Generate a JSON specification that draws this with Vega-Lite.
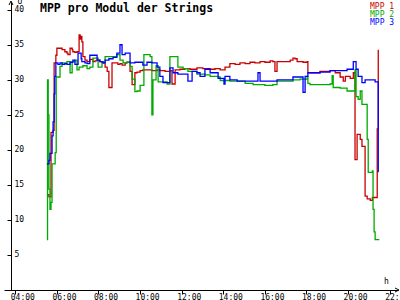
{
  "$schema": "https://vega.github.io/schema/vega-lite/v6.json",
  "width": 394,
  "height": 288,
  "autosize": "none",
  "padding": {"left": 4, "top": 2, "right": 2, "bottom": 10},
  "background": "white",
  "title": {"text": "MPP pro Modul der Strings", "anchor": "start", "dx": 36, "offset": -17, "font": "DejaVu Sans Mono", "fontSize": 11.5, "fontWeight": "bold", "color": "black"},
  "config": {
    "view": {"stroke": null},
    "axis": {"grid": false, "domainColor": "black", "tickColor": "black", "labelColor": "black", "titleColor": "black", "labelFont": "DejaVu Sans Mono", "titleFont": "DejaVu Sans Mono", "labelFontSize": 8, "titleFontSize": 8, "titleFontWeight": "normal"}
  },
  "encoding": {
    "x": {"field": "h", "type": "quantitative",
      "scale": {"domain": [3.457, 22.399], "nice": false, "zero": false},
      "axis": {"title": "h", "values": [4, 6, 8, 10, 12, 14, 16, 18, 20, 22], "labelExpr": "(datum.value < 10 ? '0' : '') + datum.value + ':00'", "tickSize": 4, "labelPadding": -1, "labelAlign": "left", "labelOffset": -5, "labelFlush": false, "labelOverlap": false, "labelBound": false, "titleX": 382, "titleY": -7, "titleAlign": "center", "titleBaseline": "alphabetic"}},
    "y": {"field": "v", "type": "quantitative",
      "scale": {"domain": [0, 41.1], "nice": false, "zero": false},
      "axis": {"offset": -7, "values": [5, 10, 15, 20, 25, 30, 35, 40], "tickSize": 4, "labelPadding": -7, "labelAlign": "left", "title": "U", "titleAngle": 0, "titleX": 6, "titleY": 1, "titleAlign": "left", "titleBaseline": "alphabetic"}}
  },
  "layer": [
    {
      "data": {
        "values": [
          {"s":"MPP 1","h":5.517,"v":13.6},{"s":"MPP 1","h":5.617,"v":13.3},{"s":"MPP 1","h":5.717,"v":22.5},{"s":"MPP 1","h":5.817,"v":22.8},{"s":"MPP 1","h":5.867,"v":32.4},{"s":"MPP 1","h":5.95,"v":33.5},{"s":"MPP 1","h":6.0,"v":34.5},{"s":"MPP 1","h":6.15,"v":34.5},{"s":"MPP 1","h":6.25,"v":34.3},{"s":"MPP 1","h":6.383,"v":34.0},{"s":"MPP 1","h":6.483,"v":33.8},{"s":"MPP 1","h":6.533,"v":33.6},{"s":"MPP 1","h":6.633,"v":34.5},{"s":"MPP 1","h":6.733,"v":34.3},{"s":"MPP 1","h":6.767,"v":34.0},{"s":"MPP 1","h":6.867,"v":33.9},{"s":"MPP 1","h":6.967,"v":34.0},{"s":"MPP 1","h":7.067,"v":36.4},{"s":"MPP 1","h":7.117,"v":35.8},{"s":"MPP 1","h":7.167,"v":36.2},{"s":"MPP 1","h":7.2,"v":35.4},{"s":"MPP 1","h":7.25,"v":33.3},{"s":"MPP 1","h":7.35,"v":32.8},{"s":"MPP 1","h":7.45,"v":32.6},{"s":"MPP 1","h":7.583,"v":32.9},{"s":"MPP 1","h":7.733,"v":32.6},{"s":"MPP 1","h":7.833,"v":32.7},{"s":"MPP 1","h":7.933,"v":32.8},{"s":"MPP 1","h":8.067,"v":32.6},{"s":"MPP 1","h":8.167,"v":32.5},{"s":"MPP 1","h":8.217,"v":32.4},{"s":"MPP 1","h":8.317,"v":31.8},{"s":"MPP 1","h":8.417,"v":31.2},{"s":"MPP 1","h":8.5,"v":28.9},{"s":"MPP 1","h":8.6,"v":28.9},{"s":"MPP 1","h":8.65,"v":32.4},{"s":"MPP 1","h":8.8,"v":32.4},{"s":"MPP 1","h":8.933,"v":32.2},{"s":"MPP 1","h":9.033,"v":32.3},{"s":"MPP 1","h":9.133,"v":32.1},{"s":"MPP 1","h":9.283,"v":32.4},{"s":"MPP 1","h":9.367,"v":32.5},{"s":"MPP 1","h":9.517,"v":31.2},{"s":"MPP 1","h":9.617,"v":29.3},{"s":"MPP 1","h":9.75,"v":31.0},{"s":"MPP 1","h":9.85,"v":31.1},{"s":"MPP 1","h":10.0,"v":31.3},{"s":"MPP 1","h":10.133,"v":31.4},{"s":"MPP 1","h":10.333,"v":31.4},{"s":"MPP 1","h":10.567,"v":31.3},{"s":"MPP 1","h":10.817,"v":31.4},{"s":"MPP 1","h":10.95,"v":31.3},{"s":"MPP 1","h":11.2,"v":31.2},{"s":"MPP 1","h":11.433,"v":31.3},{"s":"MPP 1","h":11.533,"v":29.4},{"s":"MPP 1","h":11.683,"v":31.4},{"s":"MPP 1","h":11.917,"v":31.5},{"s":"MPP 1","h":12.15,"v":31.6},{"s":"MPP 1","h":12.4,"v":31.5},{"s":"MPP 1","h":12.733,"v":31.7},{"s":"MPP 1","h":13.017,"v":31.6},{"s":"MPP 1","h":13.367,"v":31.5},{"s":"MPP 1","h":13.6,"v":31.6},{"s":"MPP 1","h":13.85,"v":31.4},{"s":"MPP 1","h":14.083,"v":31.8},{"s":"MPP 1","h":14.317,"v":32.3},{"s":"MPP 1","h":14.567,"v":32.2},{"s":"MPP 1","h":14.8,"v":32.4},{"s":"MPP 1","h":15.05,"v":32.3},{"s":"MPP 1","h":15.283,"v":32.5},{"s":"MPP 1","h":15.517,"v":32.4},{"s":"MPP 1","h":15.767,"v":32.6},{"s":"MPP 1","h":16.0,"v":32.5},{"s":"MPP 1","h":16.25,"v":32.7},{"s":"MPP 1","h":16.383,"v":32.6},{"s":"MPP 1","h":16.483,"v":31.2},{"s":"MPP 1","h":16.583,"v":32.6},{"s":"MPP 1","h":16.967,"v":32.6},{"s":"MPP 1","h":17.217,"v":32.8},{"s":"MPP 1","h":17.35,"v":33.1},{"s":"MPP 1","h":17.45,"v":33.0},{"s":"MPP 1","h":17.55,"v":32.6},{"s":"MPP 1","h":17.833,"v":32.5},{"s":"MPP 1","h":18.033,"v":32.6},{"s":"MPP 1","h":18.067,"v":31.0},{"s":"MPP 1","h":18.417,"v":31.0},{"s":"MPP 1","h":18.65,"v":31.2},{"s":"MPP 1","h":18.9,"v":31.2},{"s":"MPP 1","h":19.133,"v":31.3},{"s":"MPP 1","h":19.383,"v":31.0},{"s":"MPP 1","h":19.617,"v":30.4},{"s":"MPP 1","h":19.767,"v":29.8},{"s":"MPP 1","h":19.867,"v":30.5},{"s":"MPP 1","h":20.1,"v":30.2},{"s":"MPP 1","h":20.25,"v":31.0},{"s":"MPP 1","h":20.333,"v":18.6},{"s":"MPP 1","h":20.433,"v":22.2},{"s":"MPP 1","h":20.583,"v":21.5},{"s":"MPP 1","h":20.667,"v":20.5},{"s":"MPP 1","h":20.817,"v":13.4},{"s":"MPP 1","h":20.917,"v":13.0},{"s":"MPP 1","h":21.067,"v":12.8},{"s":"MPP 1","h":21.167,"v":13.2},{"s":"MPP 1","h":21.4,"v":23.0},{"s":"MPP 1","h":21.45,"v":34.3},
          {"s":"MPP 2","h":5.517,"v":7.2},{"s":"MPP 2","h":5.55,"v":30.0},{"s":"MPP 2","h":5.583,"v":25.0},{"s":"MPP 2","h":5.617,"v":14.4},{"s":"MPP 2","h":5.667,"v":11.5},{"s":"MPP 2","h":5.717,"v":12.5},{"s":"MPP 2","h":5.767,"v":18.0},{"s":"MPP 2","h":5.917,"v":19.6},{"s":"MPP 2","h":5.967,"v":30.4},{"s":"MPP 2","h":6.05,"v":30.4},{"s":"MPP 2","h":6.15,"v":31.9},{"s":"MPP 2","h":6.25,"v":32.4},{"s":"MPP 2","h":6.483,"v":32.6},{"s":"MPP 2","h":6.633,"v":31.0},{"s":"MPP 2","h":6.733,"v":32.6},{"s":"MPP 2","h":6.867,"v":32.8},{"s":"MPP 2","h":6.967,"v":31.4},{"s":"MPP 2","h":7.067,"v":31.8},{"s":"MPP 2","h":7.25,"v":32.0},{"s":"MPP 2","h":7.45,"v":31.6},{"s":"MPP 2","h":7.583,"v":31.8},{"s":"MPP 2","h":7.733,"v":33.1},{"s":"MPP 2","h":7.983,"v":31.8},{"s":"MPP 2","h":8.167,"v":32.4},{"s":"MPP 2","h":8.317,"v":33.3},{"s":"MPP 2","h":8.883,"v":33.6},{"s":"MPP 2","h":9.033,"v":32.8},{"s":"MPP 2","h":9.183,"v":32.4},{"s":"MPP 2","h":9.367,"v":32.5},{"s":"MPP 2","h":9.517,"v":31.9},{"s":"MPP 2","h":9.617,"v":30.1},{"s":"MPP 2","h":9.75,"v":28.3},{"s":"MPP 2","h":9.85,"v":28.4},{"s":"MPP 2","h":10.0,"v":29.2},{"s":"MPP 2","h":10.183,"v":33.6},{"s":"MPP 2","h":10.483,"v":33.3},{"s":"MPP 2","h":10.567,"v":25.0},{"s":"MPP 2","h":10.617,"v":30.0},{"s":"MPP 2","h":10.767,"v":32.0},{"s":"MPP 2","h":10.867,"v":29.7},{"s":"MPP 2","h":11.1,"v":29.7},{"s":"MPP 2","h":11.3,"v":29.4},{"s":"MPP 2","h":11.433,"v":33.3},{"s":"MPP 2","h":11.733,"v":33.3},{"s":"MPP 2","h":11.817,"v":31.8},{"s":"MPP 2","h":12.067,"v":31.6},{"s":"MPP 2","h":12.3,"v":31.2},{"s":"MPP 2","h":12.733,"v":30.8},{"s":"MPP 2","h":13.117,"v":30.7},{"s":"MPP 2","h":13.367,"v":30.5},{"s":"MPP 2","h":13.75,"v":30.4},{"s":"MPP 2","h":13.85,"v":29.9},{"s":"MPP 2","h":14.317,"v":29.8},{"s":"MPP 2","h":14.8,"v":29.8},{"s":"MPP 2","h":15.05,"v":29.5},{"s":"MPP 2","h":15.433,"v":29.3},{"s":"MPP 2","h":16.0,"v":29.2},{"s":"MPP 2","h":16.383,"v":29.3},{"s":"MPP 2","h":16.583,"v":29.8},{"s":"MPP 2","h":17.217,"v":29.8},{"s":"MPP 2","h":17.35,"v":30.0},{"s":"MPP 2","h":17.683,"v":30.1},{"s":"MPP 2","h":18.033,"v":30.5},{"s":"MPP 2","h":18.067,"v":29.5},{"s":"MPP 2","h":18.167,"v":29.3},{"s":"MPP 2","h":18.65,"v":29.3},{"s":"MPP 2","h":19.133,"v":29.4},{"s":"MPP 2","h":19.233,"v":30.6},{"s":"MPP 2","h":19.283,"v":28.9},{"s":"MPP 2","h":19.617,"v":28.8},{"s":"MPP 2","h":19.95,"v":28.4},{"s":"MPP 2","h":20.25,"v":28.4},{"s":"MPP 2","h":20.333,"v":31.4},{"s":"MPP 2","h":20.383,"v":27.6},{"s":"MPP 2","h":20.483,"v":27.2},{"s":"MPP 2","h":20.583,"v":28.4},{"s":"MPP 2","h":20.667,"v":26.5},{"s":"MPP 2","h":20.917,"v":21.5},{"s":"MPP 2","h":20.967,"v":16.8},{"s":"MPP 2","h":21.167,"v":17.0},{"s":"MPP 2","h":21.2,"v":11.5},{"s":"MPP 2","h":21.25,"v":8.3},{"s":"MPP 2","h":21.3,"v":7.2},{"s":"MPP 2","h":21.5,"v":7.2},
          {"s":"MPP 3","h":5.517,"v":18.0},{"s":"MPP 3","h":5.617,"v":18.5},{"s":"MPP 3","h":5.667,"v":19.5},{"s":"MPP 3","h":5.767,"v":22.0},{"s":"MPP 3","h":5.817,"v":24.0},{"s":"MPP 3","h":5.867,"v":28.0},{"s":"MPP 3","h":5.9,"v":30.5},{"s":"MPP 3","h":5.95,"v":32.4},{"s":"MPP 3","h":6.05,"v":32.2},{"s":"MPP 3","h":6.15,"v":32.4},{"s":"MPP 3","h":6.25,"v":32.2},{"s":"MPP 3","h":6.383,"v":32.3},{"s":"MPP 3","h":6.483,"v":32.2},{"s":"MPP 3","h":6.633,"v":32.5},{"s":"MPP 3","h":6.767,"v":32.8},{"s":"MPP 3","h":6.867,"v":32.2},{"s":"MPP 3","h":7.017,"v":33.8},{"s":"MPP 3","h":7.167,"v":33.0},{"s":"MPP 3","h":7.2,"v":32.6},{"s":"MPP 3","h":7.35,"v":32.4},{"s":"MPP 3","h":7.45,"v":32.3},{"s":"MPP 3","h":7.583,"v":33.5},{"s":"MPP 3","h":7.733,"v":33.5},{"s":"MPP 3","h":7.933,"v":32.8},{"s":"MPP 3","h":8.067,"v":32.6},{"s":"MPP 3","h":8.217,"v":32.4},{"s":"MPP 3","h":8.317,"v":32.8},{"s":"MPP 3","h":8.5,"v":33.0},{"s":"MPP 3","h":8.7,"v":33.2},{"s":"MPP 3","h":8.883,"v":33.8},{"s":"MPP 3","h":9.033,"v":35.0},{"s":"MPP 3","h":9.133,"v":33.6},{"s":"MPP 3","h":9.283,"v":33.8},{"s":"MPP 3","h":9.517,"v":32.4},{"s":"MPP 3","h":9.75,"v":32.5},{"s":"MPP 3","h":10.133,"v":32.1},{"s":"MPP 3","h":10.333,"v":32.5},{"s":"MPP 3","h":10.567,"v":32.4},{"s":"MPP 3","h":10.817,"v":31.8},{"s":"MPP 3","h":10.95,"v":30.5},{"s":"MPP 3","h":11.1,"v":29.6},{"s":"MPP 3","h":11.433,"v":31.7},{"s":"MPP 3","h":11.583,"v":31.0},{"s":"MPP 3","h":11.817,"v":30.8},{"s":"MPP 3","h":12.15,"v":30.8},{"s":"MPP 3","h":12.3,"v":29.8},{"s":"MPP 3","h":12.5,"v":31.2},{"s":"MPP 3","h":12.733,"v":31.0},{"s":"MPP 3","h":12.883,"v":30.5},{"s":"MPP 3","h":13.117,"v":31.5},{"s":"MPP 3","h":13.367,"v":31.0},{"s":"MPP 3","h":13.75,"v":30.2},{"s":"MPP 3","h":14.033,"v":29.4},{"s":"MPP 3","h":14.083,"v":30.5},{"s":"MPP 3","h":14.317,"v":30.0},{"s":"MPP 3","h":14.667,"v":29.8},{"s":"MPP 3","h":15.617,"v":29.8},{"s":"MPP 3","h":15.667,"v":31.0},{"s":"MPP 3","h":15.767,"v":29.8},{"s":"MPP 3","h":16.583,"v":30.0},{"s":"MPP 3","h":17.217,"v":30.0},{"s":"MPP 3","h":17.35,"v":30.4},{"s":"MPP 3","h":17.683,"v":30.4},{"s":"MPP 3","h":17.833,"v":28.2},{"s":"MPP 3","h":17.933,"v":30.5},{"s":"MPP 3","h":18.067,"v":31.0},{"s":"MPP 3","h":18.65,"v":31.1},{"s":"MPP 3","h":19.133,"v":31.3},{"s":"MPP 3","h":19.95,"v":31.5},{"s":"MPP 3","h":20.25,"v":32.6},{"s":"MPP 3","h":20.383,"v":31.5},{"s":"MPP 3","h":20.483,"v":30.5},{"s":"MPP 3","h":20.667,"v":29.6},{"s":"MPP 3","h":20.817,"v":30.0},{"s":"MPP 3","h":21.3,"v":29.7},{"s":"MPP 3","h":21.45,"v":16.8}
        ]
      },
      "mark": {"type": "line", "interpolate": "step-after", "strokeWidth": 1.3},
      "encoding": {
        "color": {"field": "s", "type": "nominal",
          "scale": {"domain": ["MPP 1", "MPP 2", "MPP 3"], "range": ["#c80000", "#00aa00", "#0000ff"]},
          "legend": {"orient": "none", "legendX": 358, "legendY": 1, "title": null, "symbolOpacity": 0, "symbolSize": 1, "labelFont": "DejaVu Sans Mono", "labelFontSize": 8, "rowPadding": 0, "labelOffset": 0, "padding": 0,
            "encode": {"labels": {"update": {"fill": {"scale": "color", "field": "value"}}}}}}
      }
    },
    {
      "data": {"values": [{"h": 3.794, "v": 41.24}]},
      "mark": {"type": "point", "shape": "M-1,2L0,0L1,2", "filled": false, "stroke": "black", "strokeWidth": 1, "size": 16, "opacity": 1}
    },
    {
      "data": {"values": [{"h": 22.447, "v": 0}]},
      "mark": {"type": "point", "shape": "M-2,-1L0,0L-2,1", "filled": false, "stroke": "black", "strokeWidth": 1, "size": 16, "opacity": 1}
    }
  ]
}
